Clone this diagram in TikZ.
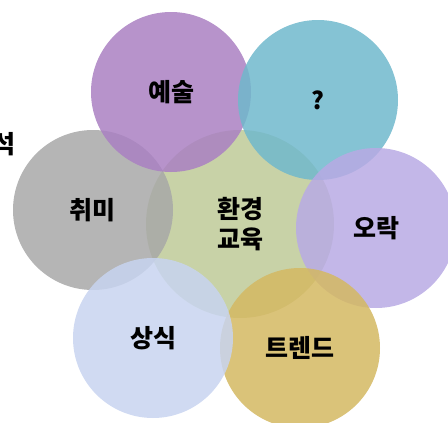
\documentclass[tikz,border=0pt]{standalone}
\usepackage{fontspec}
\newfontfamily\kr{Noto Sans CJK KR}[BoldFont={Noto Sans CJK KR Black}]
\definecolor{artcol}{RGB}{170,128,194}
\definecolor{askcol}{RGB}{112,184,204}
\definecolor{hobbycol}{RGB}{168,168,168}
\definecolor{envcol}{RGB}{190,202,152}
\definecolor{funcol}{RGB}{184,170,228}
\definecolor{sensecol}{RGB}{200,212,240}
\definecolor{trendcol}{RGB}{212,184,98}
\begin{document}
\begin{tikzpicture}[
		x=1pt, y=-1pt,
		bubble/.style={circle, inner sep=0pt, minimum size=160pt, fill opacity=.85, text opacity=1, font=\kr\bfseries\fontsize{25}{28}\selectfont},
		core/.style={bubble, minimum size=188pt, align=center, font=\kr\bfseries\fontsize{25}{30}\selectfont}
		]
		\useasboundingbox (0,0) rectangle (448,423);
		% Center
		\node[core, fill=envcol] (env) at (240,224) {환경\\교육};
		% Around it
		\node[bubble, fill=hobbycol] (hobby) at (93,210) {취미};
		\node[bubble, fill=artcol] (art) at (171,92) {예술};
		\node[bubble, fill=askcol] (ask) at (318,100) {\fontsize{24}{26}\selectfont ?};
		\node[bubble, fill=funcol] (fun) at (376,228) {오락};
		\node[bubble, fill=trendcol] (trend) at (300,348) {트렌드};
		\node[bubble, fill=sensecol] (sense) at (153,338) {상식};
		% Cut-off text on the left
		\node[font=\kr\bfseries\fontsize{25}{28}\selectfont, inner sep=0pt] (rest) at (4,144) {석};
\end{tikzpicture}
\end{document}
